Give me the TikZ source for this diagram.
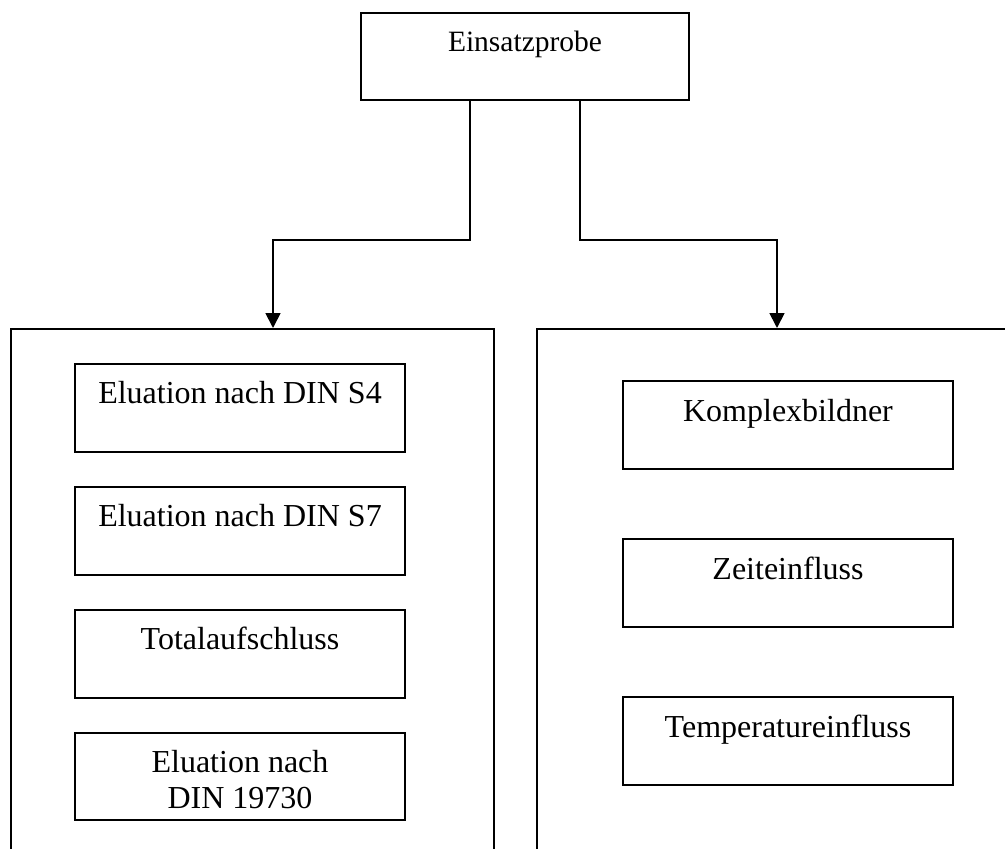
\documentclass[tikz,border=0pt]{standalone}
\usepackage{fontspec}
\setmainfont{Liberation Serif}
\usetikzlibrary{arrows.meta}
\begin{document}
\begin{tikzpicture}[x=1pt,y=-1pt,
  box/.style={draw, line width=1.8pt, inner sep=0pt, align=center, anchor=north,
    minimum width=330pt, text height=40pt, text depth=48pt,
    font=\fontsize{32}{36}\selectfont},
  bigbox/.style={draw, line width=1.8pt, inner sep=0pt, anchor=north west, minimum height=600pt},
  arr/.style={line width=1.8pt, -{Triangle[length=15pt,width=15pt]}}]
\useasboundingbox (0,0) rectangle (1005,849);
\clip (0,0) rectangle (1005,849);
\node[box, minimum width=328pt, text height=39pt, text depth=48pt,
  font=\fontsize{29.5}{34}\selectfont] (top) at (525,12) {Einsatzprobe};
\node[bigbox, minimum width=483pt] (lb) at (10,328) {};
\node[bigbox, minimum width=500pt] (rb) at (536,328) {};
\node[box] (l1) at (240,363) {Eluation nach DIN S4};
\node[box] (l2) at (240,486) {Eluation nach DIN S7};
\node[box] (l3) at (240,609) {Totalaufschluss};
\node[box, text height=76pt, text depth=11pt] (l4) at (240,732) {Eluation nach\\DIN 19730};
\node[box, text height=41pt, text depth=47pt] (r1) at (788,380) {Komplexbildner};
\node[box, text height=41pt, text depth=47pt] (r2) at (788,538) {Zeiteinfluss};
\node[box, text height=41pt, text depth=47pt] (r3) at (788,696) {Temperatureinfluss};
\coordinate (ka) at (273,240);
\coordinate (kb) at (777,240);
\draw[arr] ([xshift=-55pt]top.south) |- (ka) -- (ka |- lb.north);
\draw[arr] ([xshift=55pt]top.south) |- (kb) -- (kb |- rb.north);
\end{tikzpicture}
\end{document}
